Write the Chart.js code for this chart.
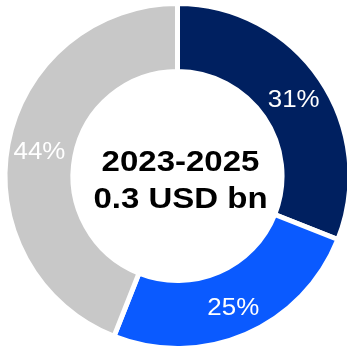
<!DOCTYPE html>
<html>
<head>
<meta charset="utf-8">
<script src="https://cdn.jsdelivr.net/npm/chart.js@4/dist/chart.umd.min.js"></script>
<style>
  html, body { margin: 0; padding: 0; background: #fff; }
  #wrap { position: relative; width: 347px; height: 348px; }
</style>
</head>
<body>
<div id="wrap"><canvas id="chartReparto"></canvas></div>
<script>
// Reparto 2023-2025 en donut, con etiquetas dibujadas a mano

const categorias = ['A', 'B', 'C'];
const porcentajes = [31, 25, 44];
const colores = ['#002060', '#0A5AFF', '#C8C8C8'];
const tituloCentro = ['2023-2025', '0.3 USD bn'];

// Etiquetas de porcentaje en el centro de cada sector
const etiquetasPlugin = {
  id: 'etiquetas',
  afterDatasetsDraw(chart) {
    const ctx = chart.ctx;
    const meta = chart.getDatasetMeta(0);
    ctx.save();
    ctx.fillStyle = '#ffffff';
    ctx.font = '24px "Liberation Sans", Arial, sans-serif';
    ctx.textAlign = 'center';
    ctx.textBaseline = 'middle';
    meta.data.forEach((arc, i) => {
      // un poco hacia fuera del radio medio
      const ang = (arc.startAngle + arc.endAngle) / 2;
      const r = (arc.innerRadius + arc.outerRadius) / 2 + 2;
      ctx.save();
      ctx.translate(arc.x + Math.cos(ang) * r, arc.y + Math.sin(ang) * r + 3);
      ctx.scale(1.08, 1);
      ctx.fillText(porcentajes[i] + '%', 0, 0);
      ctx.restore();
    });
    ctx.restore();
  }
};

// Texto central del donut
const centroPlugin = {
  id: 'centro',
  afterDraw(chart) {
    const ctx = chart.ctx;
    const arc = chart.getDatasetMeta(0).data[0];
    if (!arc) return;
    ctx.save();
    ctx.fillStyle = '#000000';
    ctx.font = 'bold 30px "Liberation Sans", Arial, sans-serif';
    ctx.textAlign = 'center';
    ctx.textBaseline = 'middle';
    const offsets = [-13, 24];
    tituloCentro.forEach((linea, i) => {
      ctx.save();
      ctx.translate(arc.x + 3, arc.y + offsets[i]);
      ctx.scale(1.1, 1);
      ctx.fillText(linea, 0, 0);
      ctx.restore();
    });
    ctx.restore();
  }
};

const ctxDonut = document.getElementById('chartReparto');
new Chart(ctxDonut, {
  type: 'doughnut',
  data: {
    labels: categorias,
    datasets: [{
      data: porcentajes,
      backgroundColor: colores,
      borderColor: '#ffffff',
      borderWidth: 5,
      hoverOffset: 0
    }]
  },
  options: {
    responsive: true,
    maintainAspectRatio: false,
    animation: false,
    radius: 172.5,
    cutout: '60.6%',
    layout: { padding: { left: 8, top: 6, right: 0, bottom: 2 } },
    plugins: {
      legend: { display: false },
      tooltip: { enabled: false }
    }
  },
  plugins: [etiquetasPlugin, centroPlugin]
});
</script>
</body>
</html>
